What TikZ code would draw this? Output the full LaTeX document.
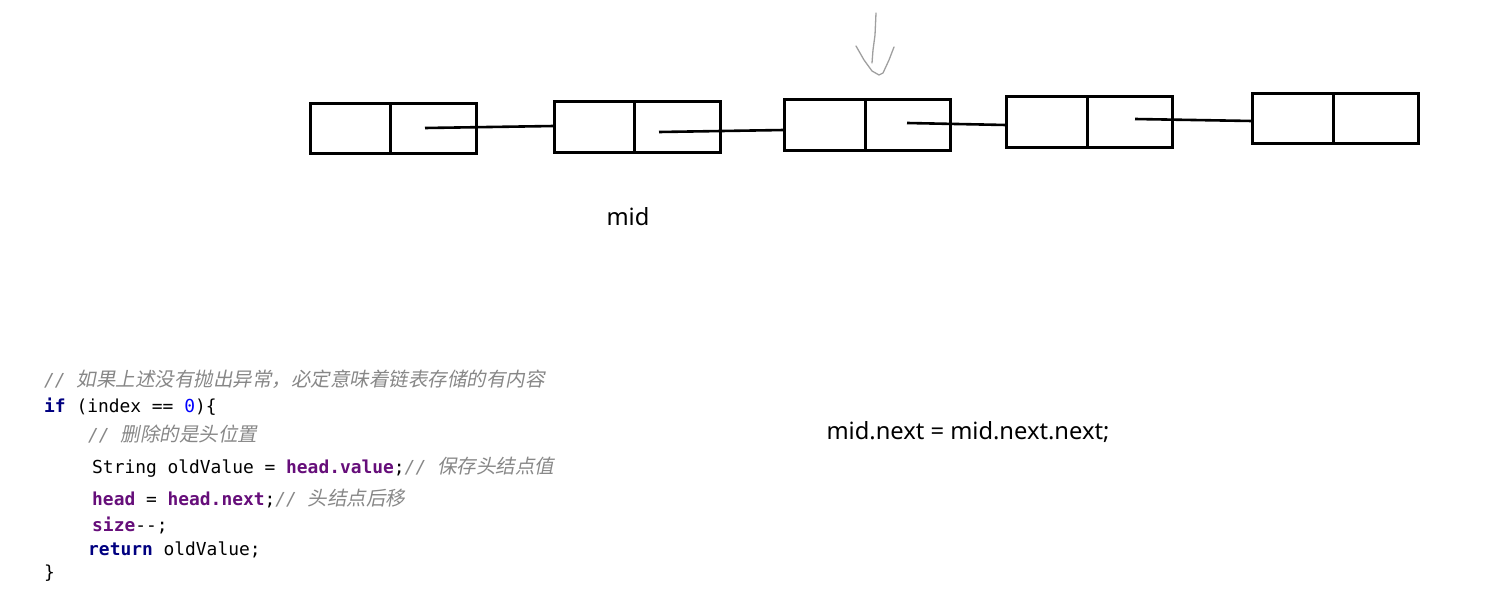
\documentclass[tikz,border=0pt]{standalone}
\usepackage{fontspec}
\setmonofont{DejaVu Sans Mono}
\newfontfamily\cjk[FakeSlant=0.2]{Noto Sans CJK SC}
\newfontfamily\lblfont{Noto Sans}
\definecolor{cgrey}{RGB}{135,135,135}
\definecolor{knavy}{RGB}{0,0,128}
\definecolor{kpurple}{RGB}{102,14,122}
\definecolor{knum}{RGB}{0,0,255}
\newcommand{\cmt}[1]{{\color{cgrey}\itshape //\ {\cjk\fontsize{19.5}{22}\selectfont #1}}}
\newcommand{\kw}[1]{{\color{knavy}\bfseries #1}}
\newcommand{\fld}[1]{{\color{kpurple}\bfseries #1}}
\begin{document}
\begin{tikzpicture}[x=1pt,y=-1pt,
  nodebox/.style={draw, line width=3pt, minimum width=166pt, minimum height=50pt, inner sep=0pt, outer sep=0pt},
  divider/.style={line width=3pt},
  link/.style={line width=2.6pt},
  pen/.style={draw=gray!75, line width=1.3pt, line join=round, line cap=round},
  codeline/.style={anchor=base west, inner sep=0pt, font=\ttfamily\fontsize{17.9}{20}\selectfont},
  label/.style={inner sep=0pt, font=\lblfont\fontsize{23.7}{28}\selectfont}]
\useasboundingbox (0,0) rectangle (1503,599);
% boxes
\node[nodebox, minimum height=49pt] (n1) at (393,128.5) {};
\node[nodebox] (n2) at (637,127) {};
\node[nodebox] (n3) at (867,125) {};
\node[nodebox] (n4) at (1089,122) {};
\node[nodebox, minimum height=49pt] (n5) at (1335,118.5) {};
\foreach \n/\d in {n1/-3,n2/-3,n3/-2,n4/-2,n5/-2}{
  \draw[divider] ([xshift=\d pt]\n.north) -- ([xshift=\d pt]\n.south);
}
% pointer starts
\coordinate (s1) at (425,128);
\coordinate (s2) at (659,132);
\coordinate (s3) at (907,123);
\coordinate (s4) at (1135,119);
\draw[link] (s1) -- ([yshift=1pt]n2.west);
\draw[link] (s2) -- ([yshift=-5pt]n3.west);
\draw[link] (s3) -- ([yshift=-3pt]n4.west);
\draw[link] (s4) -- ([yshift=-2.5pt]n5.west);
% hand-drawn arrow
\draw[pen] (876,13) -- (875,35) -- (873,50) -- (872,63);
\draw[pen] (856,46) -- (864,60) -- (872,71) -- (879,75) -- (883,73) -- (889,60) -- (894,47);
% labels
\node[label, anchor=base] (mid) at (628,225) {mid};
\node[label, anchor=base] (stmt) at (968,439) {mid.next = mid.next.next;};
% code
\node[codeline] (c1) at (44,386) {\cmt{如果上述没有抛出异常，必定意味着链表存储的有内容}};
\node[codeline] (c2) at (44,412) {\kw{if} (index == {\color{knum}0})\{};
\node[codeline] (c3) at (88,441) {\cmt{删除的是头位置}};
\node[codeline] (c4) at (92,473) {String oldValue = \fld{head.value};\cmt{保存头结点值}};
\node[codeline] (c5) at (92,505) {\fld{head} = \fld{head.next};\cmt{头结点后移}};
\node[codeline] (c6) at (92,531) {\fld{size}-{}-;};
\node[codeline] (c7) at (88,555) {\kw{return} oldValue;};
\node[codeline] (c8) at (44,578) {\}};
\end{tikzpicture}
\end{document}
